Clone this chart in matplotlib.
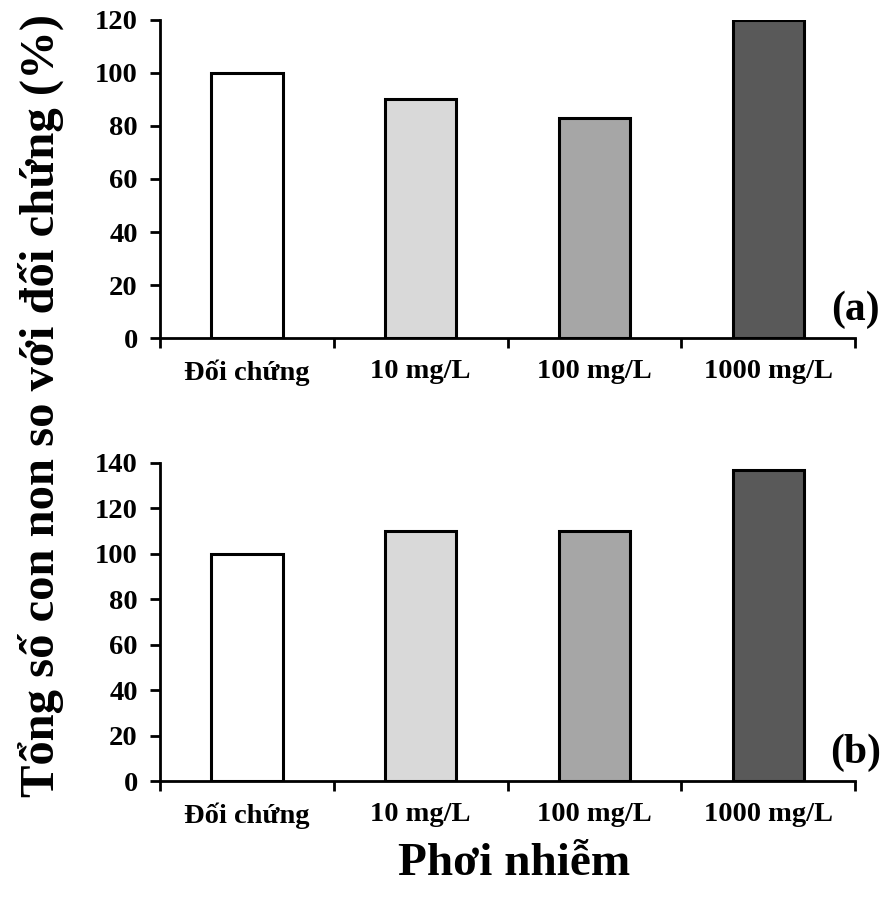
import numpy as np
from matplotlib import pyplot as plt
from matplotlib import ticker as mtick
from matplotlib import rcParams

rcParams['font.family'] = 'serif'
rcParams['font.serif'] = ['Liberation Serif', 'DejaVu Serif']
rcParams['font.weight'] = 'bold'

categories = ["Đối chứng", "10 mg/L", "100 mg/L", "1000 mg/L"]
values_a = [100, 90, 83, 120]
values_b = [100, 110, 110, 137]
bar_colors = ["#ffffff", "#d9d9d9", "#a6a6a6", "#595959"]

fig = plt.figure(figsize=(8.89, 8.97), dpi=100)
ax1 = fig.add_axes([0.180, 0.623, 0.782, 0.355])
ax2 = fig.add_axes([0.180, 0.129, 0.782, 0.355])

x = np.arange(len(categories))


def style(ax, vals, ymax, step, tag):
    ax.bar(x, vals, width=0.41, color=bar_colors, edgecolor='black', linewidth=2.2, zorder=3)
    ax.set_xlim(-0.5, len(categories) - 0.5)
    ax.set_ylim(0, ymax)
    ax.yaxis.set_major_locator(mtick.MultipleLocator(step))
    ax.set_xticks(x)
    ax.set_xticklabels(categories)
    ax.xaxis.set_minor_locator(mtick.FixedLocator(np.arange(-0.5, len(categories), 1.0)))
    ax.tick_params(axis='x', which='major', length=0, pad=15, labelsize=20.5)
    ax.tick_params(axis='x', which='minor', length=7, width=2, direction='out')
    ax.tick_params(axis='y', which='major', length=7, width=2, direction='out', labelsize=20.5, pad=9)
    for s in ['top', 'right']:
        ax.spines[s].set_visible(False)
    for s in ['left', 'bottom']:
        ax.spines[s].set_linewidth(2)
    ax.text(1.0, 0.03, tag, transform=ax.transAxes, ha='center', va='bottom',
            fontsize=30, fontweight='bold', zorder=5)


style(ax1, values_a, 120, 20, "(a)")
style(ax2, values_b, 140, 20, "(b)")

fig.text(0.046, 0.548, "Tổng số con non so với đối chứng (%)", rotation=90,
         ha='center', va='center', fontsize=35, fontweight='bold')
fig.text(0.578, 0.037, "Phơi nhiễm", ha='center', va='center', fontsize=34, fontweight='bold')

fig.savefig('out.png', dpi=100)
